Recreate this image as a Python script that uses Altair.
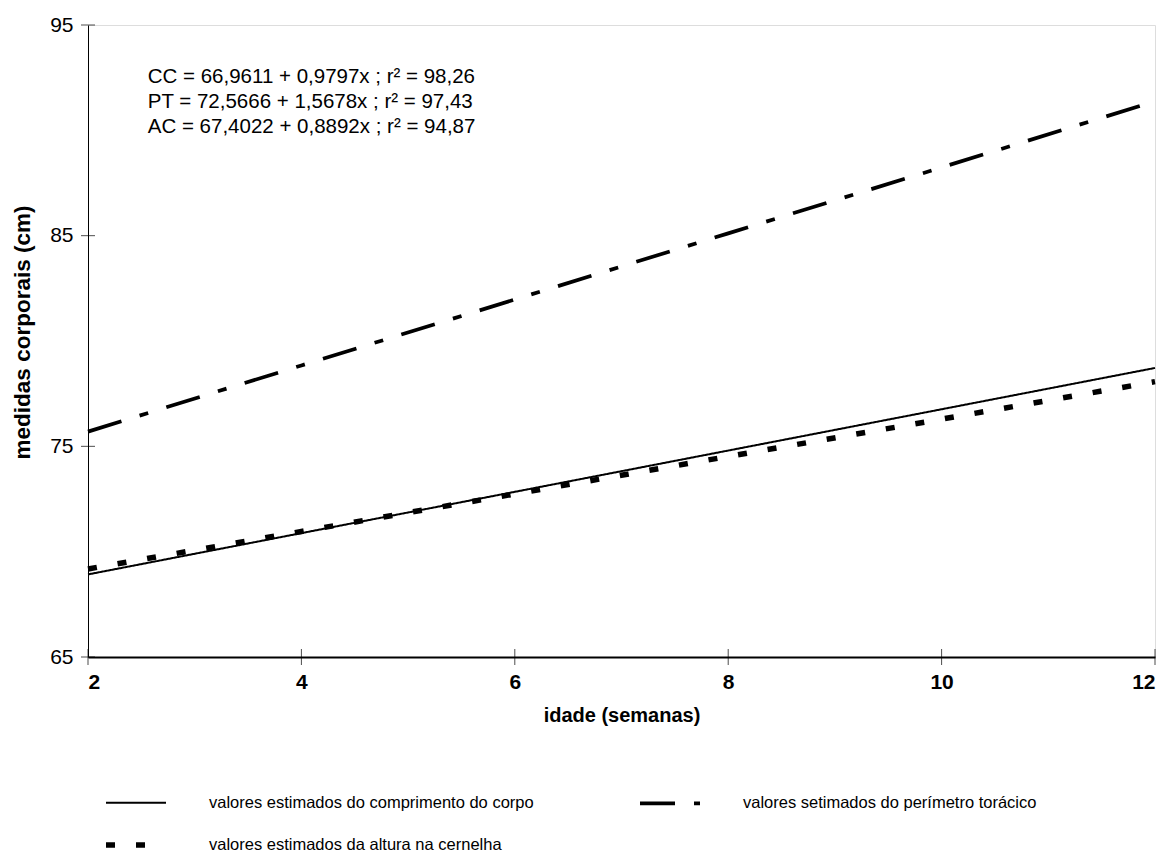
import altair as alt
import pandas as pd

idade = [2, 4, 6, 8, 10, 12]
cc_vals = [68.92, 70.88, 72.84, 74.80, 76.76, 78.72]
pt_vals = [75.70, 78.84, 81.97, 85.11, 88.24, 91.38]
ac_vals = [69.18, 70.96, 72.74, 74.52, 76.29, 78.07]

serie_cc = "valores estimados do comprimento do corpo"
serie_pt = "valores setimados do perímetro torácico"
serie_ac = "valores estimados da altura na cernelha"
series = [serie_cc, serie_pt, serie_ac]
# legend entries are filled column by column
legend_values = [serie_cc, serie_ac, serie_pt]

eq_texts = [
    "CC = 66,9611 + 0,9797x ; r² = 98,26",
    "PT = 72,5666 + 1,5678x ; r² = 97,43",
    "AC = 67,4022 + 0,8892x ; r² = 94,87",
]
eq_x = [2.56, 2.56, 2.56]
eq_y = [92.53, 91.34, 90.16]

y_ticks = [65, 75, 85, 95]
x_ticks = [2, 4, 6, 8, 10, 12]

rows = []
for i, (s, vals) in enumerate(zip(series, [cc_vals, pt_vals, ac_vals])):
    for x, v in zip(idade, vals):
        rows.append({"idade": x, "valor": v, "serie": s, "ordem": i})
df = pd.DataFrame(rows)

df_eq = pd.DataFrame({"x": eq_x, "y": eq_y, "t": eq_texts})
df_yt = pd.DataFrame({"x": [2] * len(y_ticks), "y": y_ticks})
df_xt = pd.DataFrame({"x": x_ticks, "y": [65] * len(x_ticks)})

FONT = "Liberation Sans"
xscale = alt.Scale(domain=[2, 12], nice=False, zero=False)
yscale = alt.Scale(domain=[65, 95], nice=False, zero=False)

leg = dict(title=None, orient="none", legendX=15, legendY=746, values=legend_values,
           columns=2, columnPadding=98, rowPadding=-20,
           symbolType="stroke", symbolSize=3600, symbolStrokeColor="black",
           labelFont=FONT, labelFontSize=16.5, labelColor="black",
           labelOffset=40, labelLimit=0)

lines = alt.Chart(df).mark_line(strokeCap="butt", color="black").encode(
    x=alt.X("idade:Q", scale=xscale,
            axis=alt.Axis(values=x_ticks, format="d", title="idade (semanas)", grid=False, ticks=False,
                          domainColor="black", domainWidth=2, labelFont=FONT, labelFontSize=21,
                          labelFontWeight="bold", labelColor="black", labelPadding=14,
                          titleFont=FONT, titleFontSize=20, titleFontWeight="bold",
                          titleColor="black", titleY=48, titleBaseline="top")),
    y=alt.Y("valor:Q", scale=yscale,
            axis=alt.Axis(values=y_ticks, title="medidas corporais (cm)", grid=False, ticks=False,
                          domainColor="black", domainWidth=1, labelFont=FONT, labelFontSize=21,
                          labelColor="black", labelPadding=15,
                          titleFont=FONT, titleFontSize=22.5, titleFontWeight="bold",
                          titleColor="black", titleX=-66, titleY=307, titleBaseline="middle")),
    strokeDash=alt.StrokeDash("serie:N", sort=series,
                              scale=alt.Scale(domain=series, range=[[1, 0], [35, 19, 9, 19], [9, 21]]),
                              legend=alt.Legend(**leg)),
    strokeWidth=alt.StrokeWidth("serie:N", sort=series,
                                scale=alt.Scale(domain=series, range=[2, 5.5, 4.5]),
                                legend=alt.Legend(**leg)),
    order="ordem:Q",
)

yticks = alt.Chart(df_yt).mark_tick(orient="horizontal", size=14, thickness=1, color="black").encode(
    x=alt.X("x:Q", scale=xscale), y=alt.Y("y:Q", scale=yscale))
xticks = alt.Chart(df_xt).mark_tick(orient="vertical", size=16, thickness=1, color="black").encode(
    x=alt.X("x:Q", scale=xscale), y=alt.Y("y:Q", scale=yscale))

eqs = alt.Chart(df_eq).mark_text(align="left", baseline="middle", font=FONT, fontSize=20.5,
                                 color="black").encode(
    x=alt.X("x:Q", scale=xscale), y=alt.Y("y:Q", scale=yscale), text="t:N")

chart = alt.layer(lines, yticks, xticks, eqs).properties(
    width=1067, height=632,
    autosize=alt.AutoSizeParams(type="none"),
    padding={"left": 80, "top": 17, "right": 6, "bottom": 200},
).configure_view(stroke=None).configure(background="white")

chart.save("out.html", embed_options={"renderer": "svg", "actions": False})
